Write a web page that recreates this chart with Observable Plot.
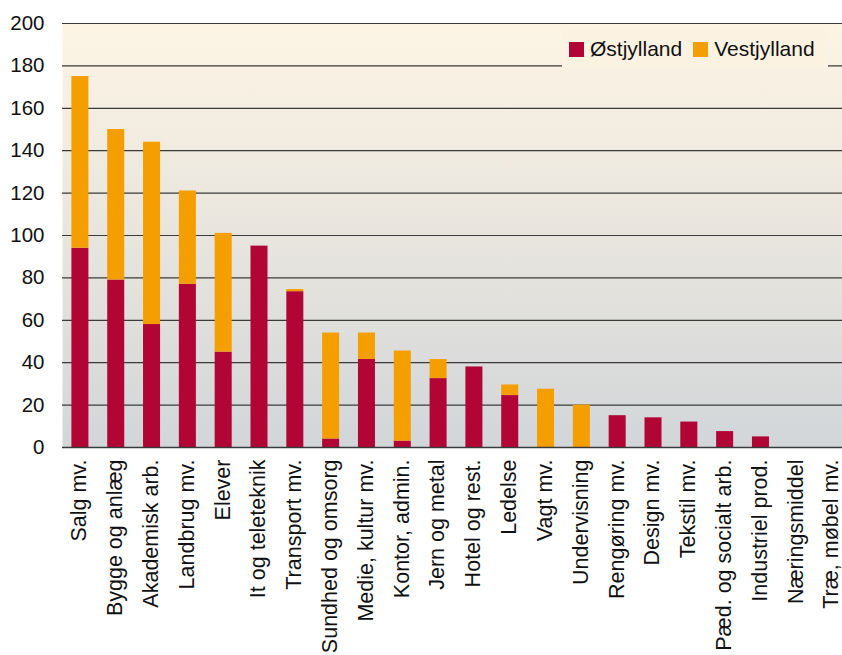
<!DOCTYPE html>
<html>
<head>
<meta charset="utf-8">
<script src="https://cdn.jsdelivr.net/npm/d3@7"></script>
<script src="https://cdn.jsdelivr.net/npm/@observablehq/plot@0.6"></script>
<style>
  html, body { margin: 0; padding: 0; background: #fff; overflow: hidden; }
  #wrap { position: relative; width: 842px; height: 655px; overflow: hidden; }
  #legend { position: absolute; left: 562px; top: 31px; width: 266px; height: 36px;
    background: #fcf2e2; font-family: "Liberation Sans", Arial, sans-serif; font-size: 21px;
    color: #111; display: flex; align-items: center; }
  #legend .sw { display: inline-block; width: 15px; height: 15px; margin-right: 6px; }
  #legend .item { display: flex; align-items: center; margin-left: 7px; margin-right: 4px; }
</style>
</head>
<body>
<div id="wrap"><div id="chart"></div><div id="legend"></div></div>
<script>
const categories = ["Salg mv.", "Bygge og anlæg", "Akademisk arb.", "Landbrug mv.", "Elever",
  "It og teleteknik", "Transport mv.", "Sundhed og omsorg", "Medie, kultur mv.", "Kontor, admin.",
  "Jern og metal", "Hotel og rest.", "Ledelse", "Vagt mv.", "Undervisning", "Rengøring mv.",
  "Design mv.", "Tekstil mv.", "Pæd. og socialt arb.", "Industriel prod.", "Næringsmiddel", "Træ, møbel mv."];
const seriesNames = ["Østjylland", "Vestjylland"];
const ost  = [94, 79, 58, 77, 45, 95, 73.5, 4, 41.5, 3, 32.5, 38, 24.5, 0, 0, 15, 14, 12, 7.5, 5, 0, 0];
const vest = [81, 71, 86, 44, 56, 0, 1, 50, 12.5, 42.5, 9, 0, 5, 27.5, 20, 0, 0, 0, 0, 0, 0, 0];
const yTicks = [0, 20, 40, 60, 80, 100, 120, 140, 160, 180, 200];
const colors = ["#b10535", "#f59e00"];

const data = [
  ...categories.map((c, i) => ({cat: c, series: seriesNames[0], value: ost[i]})),
  ...categories.map((c, i) => ({cat: c, series: seriesNames[1], value: vest[i]}))
];

const chart = Plot.plot({
  width: 850,
  height: 655,
  marginLeft: 62,
  marginRight: 0,
  marginTop: 23,
  marginBottom: 208,
  style: {fontFamily: "'Liberation Sans', Arial, sans-serif", background: "transparent", color: "#111", maxWidth: "none"},
  x: {domain: categories, padding: 0, round: false, label: null},
  y: {domain: [0, 200], label: null},
  color: {domain: seriesNames, range: colors},
  marks: [
    Plot.frame({fill: "url(#bgGrad)", stroke: "none"}),
    Plot.ruleY(yTicks, {stroke: "#3a3a3a", strokeWidth: 1.2}),
    Plot.barY(data, {x: "cat", y: "value", fill: "series", insetLeft: 9.4, insetRight: 9.4}),
    Plot.ruleY([0], {stroke: "#3a3a3a", strokeWidth: 1.5}),
    Plot.axisY(yTicks, {tickSize: 0, tickPadding: 18, fontSize: 20.5, label: null}),
    Plot.axisX({tickSize: 0, tickPadding: 12, tickRotate: -90, fontSize: 21.5, label: null, dx: -1})
  ]
});

const defs = d3.select(chart).insert("defs", ":first-child");
const g = defs.append("linearGradient").attr("id", "bgGrad")
  .attr("x1", 0).attr("y1", 0).attr("x2", 0).attr("y2", 1);
g.append("stop").attr("offset", "0%").attr("stop-color", "#fdf4e4");
g.append("stop").attr("offset", "50%").attr("stop-color", "#e8e5de");
g.append("stop").attr("offset", "100%").attr("stop-color", "#d2d6d9");

document.getElementById("chart").appendChild(chart);

const legend = document.getElementById("legend");
seriesNames.forEach((s, i) => {
  const it = document.createElement("div");
  it.className = "item";
  const sw = document.createElement("span");
  sw.className = "sw";
  sw.style.background = colors[i];
  it.appendChild(sw);
  it.appendChild(document.createTextNode(s));
  legend.appendChild(it);
});
</script>
</body>
</html>
